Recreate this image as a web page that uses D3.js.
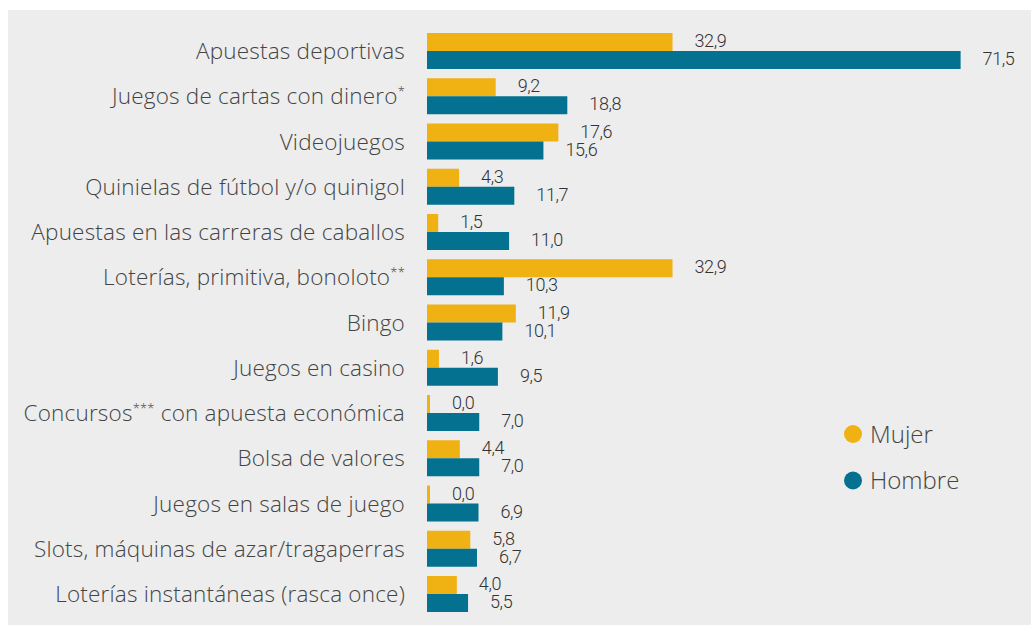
<!DOCTYPE html>
<html>
<head>
<meta charset="utf-8">
<script src="https://cdn.jsdelivr.net/npm/d3@7"></script>
<style>
  html, body { margin: 0; padding: 0; background: #fff; }
  svg { display: block; }
</style>
</head>
<body>
<svg id="chart" width="1031" height="625"></svg>
<script>
// categories, with superscript marks kept apart
const categories = [
  'Apuestas deportivas',
  'Juegos de cartas con dinero',
  'Videojuegos',
  'Quinielas de fútbol y/o quinigol',
  'Apuestas en las carreras de caballos',
  'Loterías, primitiva, bonoloto',
  'Bingo',
  'Juegos en casino',
  'Concursos con apuesta económica',
  'Bolsa de valores',
  'Juegos en salas de juego',
  'Slots, máquinas de azar/tragaperras',
  'Loterías instantáneas (rasca once)'
];
const series = ['Mujer', 'Hombre'];
const mujer = [32.9, 9.2, 17.6, 4.3, 1.5, 32.9, 11.9, 1.6, 0.0, 4.4, 0.0, 5.8, 4.0];
const hombre = [71.5, 18.8, 15.6, 11.7, 11.0, 10.3, 10.1, 9.5, 7.0, 7.0, 6.9, 6.7, 5.5];

const colors = { Mujer: '#F0B112', Hombre: '#03718F' };
const textColor = '#444';
const fmt = v => v.toFixed(1).replace('.', ',');

const svg = d3.select('#chart');
const W = 1031, H = 625;

// grey panel
svg.append('rect')
  .attr('x', 8).attr('y', 10)
  .attr('width', W - 8).attr('height', H - 10)
  .attr('fill', '#EDEDED');

const x = d3.scaleLinear().domain([0, 71.5]).range([427, 960.6]);
const y = d3.scaleBand().domain(categories).range([33, 612])
  .paddingInner(1 - 36 / 45.25).paddingOuter(0);
const ySub = d3.scaleBand().domain(series).range([0, y.bandwidth()]);

const rows = categories.map((c, i) => ({ cat: c, Mujer: mujer[i], Hombre: hombre[i] }));

const g = svg.selectAll('g.row')
  .data(rows)
  .enter().append('g')
  .attr('class', 'row')
  .attr('transform', d => `translate(0,${y(d.cat)})`);

// bars
g.selectAll('rect')
  .data(d => series.map(s => ({ s, v: d[s] })))
  .enter().append('rect')
  .attr('x', x(0))
  .attr('y', d => ySub(d.s))
  .attr('width', d => Math.max(3, x(d.v) - x(0)))
  .attr('height', ySub.bandwidth())
  .attr('fill', d => colors[d.s]);

// value labels
g.selectAll('text.val')
  .data(d => series.map(s => ({ s, v: d[s] })))
  .enter().append('text')
  .attr('class', 'val')
  .attr('x', d => x(0) + Math.max(3, x(d.v) - x(0)) + 22)
  .attr('y', d => ySub(d.s) + ySub.bandwidth() / 2 + 5)
  .attr('font-family', 'Roboto, sans-serif')
  .attr('font-weight', 300)
  .attr('font-size', 18)
  .attr('letter-spacing', -0.4)
  .attr('fill', '#333')
  .text(d => fmt(d.v));

// category labels
const sup = { 'Juegos de cartas con dinero': '*', 'Loterías, primitiva, bonoloto': '**' };
const catText = g.append('text')
  .attr('x', 405)
  .attr('y', y.bandwidth() / 2 + 8)
  .attr('text-anchor', 'end')
  .attr('font-family', '"Open Sans", Lato, sans-serif')
  .attr('font-weight', 300)
  .attr('font-size', 22.5)
  .attr('letter-spacing', 0.2)
  .attr('fill', textColor);

catText.each(function (d) {
  const t = d3.select(this);
  if (d.cat.startsWith('Concursos')) {
    t.append('tspan').text('Concursos');
    t.append('tspan').attr('font-size', 13).attr('dy', -8).text('***');
    t.append('tspan').attr('dy', 8).text(' con apuesta económica');
  } else if (sup[d.cat]) {
    t.append('tspan').text(d.cat);
    t.append('tspan').attr('font-size', 13).attr('dy', -8).text(sup[d.cat]);
  } else {
    t.text(d.cat);
  }
});

// legend
const legend = svg.append('g').attr('transform', 'translate(853,434)');
legend.selectAll('circle')
  .data(series)
  .enter().append('circle')
  .attr('cx', 0)
  .attr('cy', (d, i) => i * 46.5)
  .attr('r', 9)
  .attr('fill', d => colors[d]);
legend.selectAll('text')
  .data(series)
  .enter().append('text')
  .attr('x', 17)
  .attr('y', (d, i) => i * 46.5 + 8.5)
  .attr('font-family', '"Open Sans", Lato, sans-serif')
  .attr('font-weight', 300)
  .attr('font-size', 24)
  .attr('fill', textColor)
  .text(d => d);
</script>
</body>
</html>
